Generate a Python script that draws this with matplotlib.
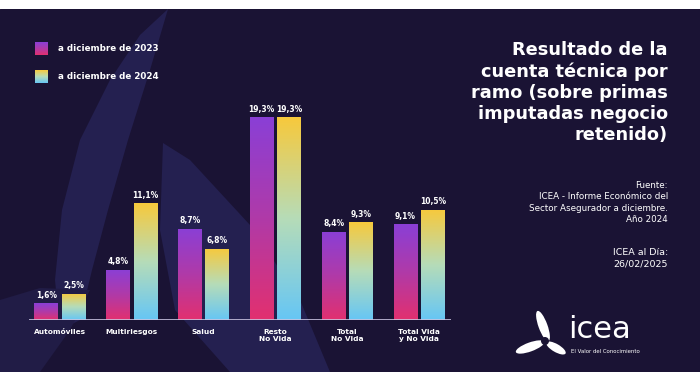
import numpy as np
import matplotlib
matplotlib.use("Agg")
import matplotlib.pyplot as plt
from matplotlib.patches import Polygon, Rectangle, Ellipse
from matplotlib.colors import LinearSegmentedColormap

categories = ["Automóviles", "Multiriesgos", "Salud", "Resto\nNo Vida", "Total\nNo Vida", "Total Vida\ny No Vida"]
vals_2023 = [1.6, 4.8, 8.7, 19.3, 8.4, 9.1]
vals_2024 = [2.5, 11.1, 6.8, 19.3, 9.3, 10.5]
labels_2023 = ["1,6%", "4,8%", "8,7%", "19,3%", "8,4%", "9,1%"]
labels_2024 = ["2,5%", "11,1%", "6,8%", "19,3%", "9,3%", "10,5%"]
legend_labels = ["a diciembre de 2023", "a diciembre de 2024"]

BG = "#1a1334"
SHAPE = "#242050"
FONT = ["DejaVu Sans"]

fig = plt.figure(figsize=(7, 3.72), dpi=100)
fig.patch.set_facecolor("white")

# background axes in pixel coords
bg = fig.add_axes([0, 0, 1, 363 / 372])
bg.set_xlim(0, 700)
bg.set_ylim(372, 9)
bg.axis("off")
bg.add_patch(Rectangle((0, 9), 700, 363, color=BG, zorder=0))
# faint decorative blades
bg.add_patch(Polygon([(168, 9), (150, 70), (128, 140), (108, 210), (92, 270), (80, 320),
                      (60, 330), (55, 280), (62, 210), (80, 140), (110, 80), (140, 35)],
                     closed=True, color=SHAPE, lw=0, zorder=1))
bg.add_patch(Polygon([(163, 143), (190, 160), (250, 225), (300, 300), (330, 372),
                      (230, 372), (175, 310), (160, 230)],
                     closed=True, color=SHAPE, lw=0, zorder=1))
bg.add_patch(Polygon([(0, 300), (40, 288), (90, 290), (70, 330), (40, 372), (0, 372)],
                     closed=True, color="#211c46", lw=0, zorder=1))

cmap23 = LinearSegmentedColormap.from_list("c23", ["#e2306f", "#b03aa8", "#8a3fd6"])
cmap24 = LinearSegmentedColormap.from_list("c24", ["#66c6f5", "#b6dcb8", "#f7c93c"])
grad = np.linspace(0, 1, 256).reshape(-1, 1)

# legend swatches
for k, (cm, lab) in enumerate(zip([cmap23, cmap24], legend_labels)):
    y0 = 42 + k * 28
    bg.imshow(grad[::-1], cmap=cm, origin="upper", extent=(35, 48, y0 + 13, y0),
              aspect="auto", zorder=3)
    bg.text(58, y0 + 7, lab, color="white", fontsize=6.3, fontweight="bold",
            va="center", ha="left", family=FONT, zorder=4)
bg.set_xlim(0, 700)
bg.set_ylim(372, 9)

# chart axes
ax = fig.add_axes([24 / 700, (372 - 320) / 372, 431 / 700, 220.5 / 372])
ax.axis("off")
ax.patch.set_alpha(0)

x = np.arange(len(categories))
w = 0.33
off = 0.19
for vals, labs, cm, sgn in [(vals_2023, labels_2023, cmap23, -1), (vals_2024, labels_2024, cmap24, 1)]:
    bars = ax.bar(x + sgn * off, vals, width=w, color="none", edgecolor="none", zorder=3)
    for b, lab in zip(bars, labs):
        x0 = b.get_x()
        bw, bh = b.get_width(), b.get_height()
        im = ax.imshow(grad, cmap=cm, origin="lower", aspect="auto",
                       extent=(x0, x0 + bw, 0, bh), zorder=2)
        im.set_clip_path(b)
        ax.text(x0 + bw / 2, bh + 0.35, lab, ha="center", va="bottom", color="white",
                fontsize=5.5, fontweight="bold", family=FONT, zorder=4)

ax.plot([-0.43, 5.45], [0, 0], color="#c9c3e0", lw=1.2, zorder=5, solid_capstyle="butt")
ax.set_xlim(-0.5, 5.5)
ax.set_ylim(0, 21)

for xi, c in zip(x, categories):
    ax.text(xi, -0.85, c, ha="center", va="top", color="white", fontsize=5.3,
            fontweight="bold", family=FONT, linespacing=1.3, zorder=4)

# title
title = "Resultado de la\ncuenta técnica por\nramo (sobre primas\nimputadas negocio\nretenido)"
bg.text(668, 41, title, ha="right", va="top", color="white", fontsize=12.8,
        fontweight="bold", family=FONT, linespacing=1.22, zorder=4)

src = "Fuente:\nICEA - Informe Económico del\nSector Asegurador a diciembre.\nAño 2024"
bg.text(668, 181, src, ha="right", va="top", color="white", fontsize=6.3,
        family=FONT, linespacing=1.35, zorder=4)
bg.text(668, 248, "ICEA al Día:\n26/02/2025", ha="right", va="top", color="white",
        fontsize=6.8, family=FONT, linespacing=1.3, zorder=4)

# logo
bg.add_patch(Ellipse((543, 326), 9, 32, angle=-20, color="white", lw=0, zorder=4))
bg.add_patch(Ellipse((530, 347), 9, 30, angle=70, color="white", lw=0, zorder=4))
bg.add_patch(Ellipse((556, 348), 8, 22, angle=-60, color="white", lw=0, zorder=4))
bg.add_patch(Ellipse((545, 341), 8, 8, color=BG, lw=0, zorder=5))
bg.text(568, 338, "icea", ha="left", va="baseline", color="white", fontsize=22,
        family=FONT, zorder=4)
bg.text(571, 352, "El Valor del Conocimiento", ha="left", va="center", color="white",
        fontsize=3.9, family=FONT, zorder=4)

fig.savefig("out.png", dpi=100, facecolor=fig.get_facecolor())
